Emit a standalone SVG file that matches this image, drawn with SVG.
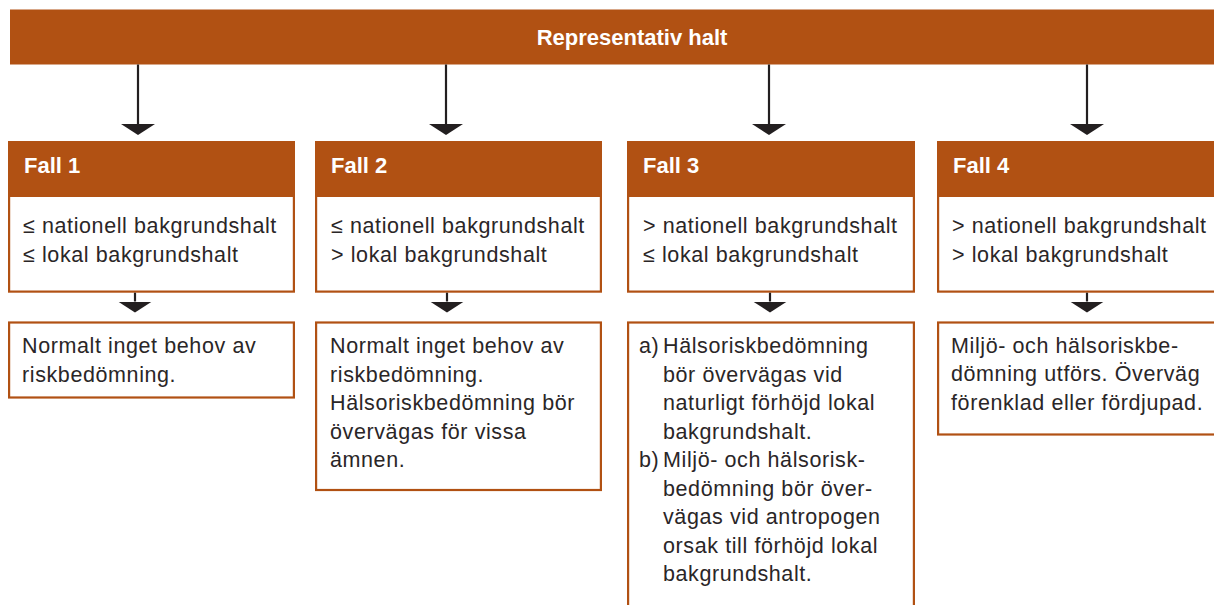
<svg xmlns="http://www.w3.org/2000/svg" width="1214" height="605" viewBox="0 0 1214 605">
  <style>
    .band { fill: #B15113; }
    .box { fill: #ffffff; stroke: #B15113; stroke-width: 2.2; }
    .title { font-family: "Liberation Sans", Arial, sans-serif; font-weight: bold; font-size: 22px; fill: #ffffff; }
    .body { font-family: "Liberation Sans", Arial, sans-serif; font-size: 21.5px; fill: #2a2627; letter-spacing: 0.6px; }
    .conn { stroke: #231f20; stroke-width: 2.2; fill: none; marker-end: url(#head); }
  </style>
  <defs>
    <marker id="head" viewBox="0 0 11 34" refX="0" refY="17" markerWidth="11" markerHeight="34" markerUnits="userSpaceOnUse" orient="auto">
      <path d="M0,0 L11,17 L0,34 Z" fill="#231f20"/>
    </marker>
  </defs>

  <rect width="1214" height="605" fill="#ffffff"/>

  <!-- Top band -->
  <g id="representativ-halt">
    <rect class="band" x="10" y="9.5" width="1220" height="55"/>
    <text class="title" x="632" y="45" text-anchor="middle">Representativ halt</text>
  </g>

  <!-- Case 1 -->
  <g id="fall-1">
    <rect class="box" x="9.1" y="190" width="284.8" height="101.6"/>
    <rect class="band" x="8" y="141" width="287" height="56"/>
    <text class="title" x="24" y="173">Fall 1</text>
    <text class="body" x="23" y="233">≤ nationell bakgrundshalt</text>
    <text class="body" x="23" y="262">≤ lokal bakgrundshalt</text>
  </g>
  <g id="utfall-1">
    <rect class="box" x="9.1" y="322.5" width="284.8" height="75"/>
    <text class="body" x="22" y="353">Normalt inget behov av</text>
    <text class="body" x="22" y="382">riskbedömning.</text>
  </g>

  <!-- Case 2 -->
  <g id="fall-2">
    <rect class="box" x="316.1" y="190" width="284.8" height="101.6"/>
    <rect class="band" x="315" y="141" width="287" height="56"/>
    <text class="title" x="331" y="173">Fall 2</text>
    <text class="body" x="331" y="233">≤ nationell bakgrundshalt</text>
    <text class="body" x="331" y="262">&gt; lokal bakgrundshalt</text>
  </g>
  <g id="utfall-2">
    <rect class="box" x="316.1" y="322.5" width="284.8" height="167.5"/>
    <text class="body" x="330" y="353">Normalt inget behov av</text>
    <text class="body" x="330" y="381.5">riskbedömning.</text>
    <text class="body" x="330" y="410">Hälsoriskbedömning bör</text>
    <text class="body" x="330" y="438.5">övervägas för vissa</text>
    <text class="body" x="330" y="467">ämnen.</text>
  </g>

  <!-- Case 3 -->
  <g id="fall-3">
    <rect class="box" x="628.1" y="190" width="285.8" height="101.6"/>
    <rect class="band" x="627" y="141" width="288" height="56"/>
    <text class="title" x="643" y="173">Fall 3</text>
    <text class="body" x="643" y="233">&gt; nationell bakgrundshalt</text>
    <text class="body" x="643" y="262">≤ lokal bakgrundshalt</text>
  </g>
  <g id="utfall-3">
    <rect class="box" x="628.1" y="322.5" width="285.8" height="300"/>
    <text class="body" x="639" y="353">a)</text>
    <text class="body" x="663" y="353">Hälsoriskbedömning</text>
    <text class="body" x="663" y="381.5">bör övervägas vid</text>
    <text class="body" x="663" y="410">naturligt förhöjd lokal</text>
    <text class="body" x="663" y="438.5">bakgrundshalt.</text>
    <text class="body" x="639" y="467">b)</text>
    <text class="body" x="663" y="467">Miljö- och hälsorisk-</text>
    <text class="body" x="663" y="495.5">bedömning bör över-</text>
    <text class="body" x="663" y="524">vägas vid antropogen</text>
    <text class="body" x="663" y="552.5">orsak till förhöjd lokal</text>
    <text class="body" x="663" y="581">bakgrundshalt.</text>
  </g>

  <!-- Case 4 -->
  <g id="fall-4">
    <rect class="box" x="938.1" y="190" width="300" height="101.6"/>
    <rect class="band" x="937" y="141" width="300" height="56"/>
    <text class="title" x="953" y="173">Fall 4</text>
    <text class="body" x="952" y="233">&gt; nationell bakgrundshalt</text>
    <text class="body" x="952" y="262">&gt; lokal bakgrundshalt</text>
  </g>
  <g id="utfall-4">
    <rect class="box" x="938.1" y="322.5" width="300" height="112"/>
    <text class="body" x="951" y="352.5">Miljö- och hälsoriskbe-</text>
    <text class="body" x="951" y="381">dömning utförs. Överväg</text>
    <text class="body" x="951" y="409.5">förenklad eller fördjupad.</text>
  </g>

  <!-- Connectors -->
  <g id="connectors">
    <path class="conn" d="M138,64.5 V124"/>
    <path class="conn" d="M446,64.5 V124"/>
    <path class="conn" d="M769,64.5 V124"/>
    <path class="conn" d="M1087,64.5 V124"/>
    <path class="conn" d="M135,292.7 V301.5"/>
    <path class="conn" d="M447,292.7 V301.5"/>
    <path class="conn" d="M770,292.7 V301.5"/>
    <path class="conn" d="M1087,292.7 V301.5"/>
  </g>
</svg>
